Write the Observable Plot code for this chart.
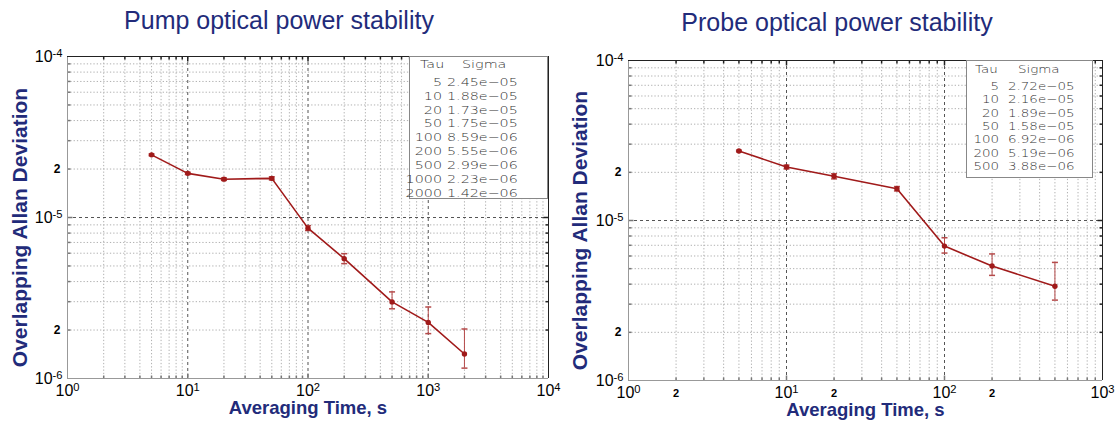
<!DOCTYPE html>
<html><head><meta charset="utf-8">
<script src="https://cdn.jsdelivr.net/npm/d3@7"></script>
<script src="https://cdn.jsdelivr.net/npm/@observablehq/plot@0.6"></script>
<style>
html,body{margin:0;padding:0;background:#fff;}
#root{position:relative;width:1116px;height:422px;overflow:hidden;}
.panel{position:absolute;top:0;width:558px;height:422px;}
.title{position:absolute;left:0;width:558px;text-align:center;font-family:"Liberation Sans",Arial,sans-serif;font-size:25px;line-height:30px;color:#222b7a;}
.panel svg{position:absolute;left:0;top:40px;overflow:visible;}
.lg{position:absolute;background:#fff;border:1px solid #888;box-sizing:border-box;}
.lt{position:absolute;font-family:"DejaVu Sans ExtraLight","DejaVu Sans",sans-serif;font-weight:200;font-size:11px;line-height:14px;color:#333;white-space:nowrap;}
</style></head><body><div id="root"></div>
<script>
// ---- data ----
const pumpTau   = [5, 10, 20, 50, 100, 200, 500, 1000, 2000];
const pumpSigma = [2.45e-5, 1.88e-5, 1.73e-5, 1.75e-5, 8.59e-6, 5.55e-6, 2.99e-6, 2.23e-6, 1.42e-6];
const pumpLo    = [2.42e-5, 1.85e-5, 1.70e-5, 1.71e-5, 8.30e-6, 5.17e-6, 2.71e-6, 1.90e-6, 1.16e-6];
const pumpHi    = [2.48e-5, 1.91e-5, 1.76e-5, 1.79e-5, 8.90e-6, 5.96e-6, 3.45e-6, 2.78e-6, 2.03e-6];

const probeTau   = [5, 10, 20, 50, 100, 200, 500];
const probeSigma = [2.72e-5, 2.16e-5, 1.89e-5, 1.58e-5, 6.92e-6, 5.19e-6, 3.88e-6];
const probeLo    = [2.69e-5, 2.10e-5, 1.82e-5, 1.53e-5, 6.26e-6, 4.54e-6, 3.18e-6];
const probeHi    = [2.75e-5, 2.22e-5, 1.96e-5, 1.63e-5, 7.80e-6, 6.18e-6, 5.47e-6];

const pumpXTicks  = [1, 10, 100, 1000, 10000];
const probeXTicks = [1, 10, 100, 1000];
const probeX2Ticks = [2, 20, 200];
const yTicks  = [1e-6, 1e-5, 1e-4];
const y2Ticks = [2e-6, 2e-5];
const minorMult = [2, 3, 4, 5, 6, 7, 8, 9];

const titles = ["Pump optical power stability", "Probe optical power stability"];
const xLabel = "Averaging Time, s";
const yLabel = "Overlapping Allan Deviation";

// ---- styles ----
const navy = "#222b7a", red = "#a01a1a", errRed = "#b54a4a";

const sym = (f) => ({draw(c){ f(c); }});
const capSym = sym(c => { c.moveTo(-3, 0); c.lineTo(3, 0); });
const tUp = (l) => sym(c => { c.moveTo(0, 0); c.lineTo(0, -l); });
const tDown = (l) => sym(c => { c.moveTo(0, 0); c.lineTo(0, l); });
const tRight = (l) => sym(c => { c.moveTo(0, 0); c.lineTo(l, 0); });
const tLeft = (l) => sym(c => { c.moveTo(0, 0); c.lineTo(-l, 0); });

const e10 = d => "10^" + Math.round(Math.log10(d));
function fmtSigma(v) {
  const [m, e] = v.toExponential(2).split("e");
  const n = +e;
  return m + "e" + (n < 0 ? "\u2212" : "+") + String(Math.abs(n)).padStart(2, "0");
}
const minors = (majors) => majors.slice(0, -1).flatMap(m => minorMult.map(k => k * m));

function makePanel(cfg) {
  const el = document.createElement("div");
  el.className = "panel";
  el.style.left = cfg.left + "px";
  document.getElementById("root").appendChild(el);
  const t = document.createElement("div");
  t.className = "title"; t.textContent = cfg.title; t.style.top = (cfg.titleY - 15) + "px";
  el.appendChild(t);

  const rows = cfg.tau.map((tau, i) => ({tau, sigma: cfg.sigma[i], lo: cfg.lo[i], hi: cfg.hi[i]}));
  const xMaj = cfg.xTicks, xMin = minors(xMaj);
  const yMaj = yTicks, yMin = minors(yMaj);
  const xD = [xMaj[0], xMaj[xMaj.length - 1]], yD = [yMaj[0], yMaj[yMaj.length - 1]];
  const xInner = xMaj.slice(1, -1), yInner = yMaj.slice(1, -1);
  const tickCol = "#777";

  const marks = [
    Plot.ruleX(xMin, {stroke: "#b0b0b0", strokeDasharray: "1.3,2"}),
    Plot.ruleY(yMin, {stroke: "#b0b0b0", strokeDasharray: "1.3,2"}),
    Plot.ruleX(xInner, {stroke: "#555", strokeDasharray: "3,3"}),
    Plot.ruleY(yInner, {stroke: "#555", strokeDasharray: "3,3"}),
    // inner edge ticks
    Plot.dot(xMin, {x: d => d, frameAnchor: "bottom", symbol: tUp(3), stroke: tickCol, fill: "none"}),
    Plot.dot(xInner, {x: d => d, frameAnchor: "bottom", symbol: tUp(5), stroke: tickCol, fill: "none"}),
    Plot.dot(xMin, {x: d => d, frameAnchor: "top", symbol: tDown(3), stroke: "#222", fill: "none"}),
    Plot.dot(xInner, {x: d => d, frameAnchor: "top", symbol: tDown(5), stroke: "#222", fill: "none"}),
    Plot.dot(yMin, {y: d => d, frameAnchor: "left", symbol: tRight(3), stroke: tickCol, fill: "none"}),
    Plot.dot(yInner, {y: d => d, frameAnchor: "left", symbol: tRight(5), stroke: tickCol, fill: "none"}),
    Plot.dot(yMin, {y: d => d, frameAnchor: "right", symbol: tLeft(3), stroke: "#222", fill: "none"}),
    Plot.dot(yInner, {y: d => d, frameAnchor: "right", symbol: tLeft(5), stroke: "#222", fill: "none"}),
    // frame edges
    Plot.ruleY([yD[0]], {stroke: "#999"}),
    Plot.ruleX([xD[0]], {stroke: "#999"}),
    Plot.ruleY([yD[1]], {stroke: "#222"}),
    Plot.ruleX([xD[1]], {stroke: "#222"}),
    // error bars
    Plot.ruleX(rows, {x: "tau", y1: "lo", y2: "hi", stroke: errRed, strokeWidth: 1}),
    Plot.dot(rows, {x: "tau", y: "lo", symbol: capSym, stroke: errRed, fill: "none"}),
    Plot.dot(rows, {x: "tau", y: "hi", symbol: capSym, stroke: errRed, fill: "none"}),
    // data
    Plot.line(rows, {x: "tau", y: "sigma", stroke: red, strokeWidth: 1.6}),
    Plot.dot(rows, {x: "tau", y: "sigma", r: 2.7, fill: red, stroke: "none"}),
    // axes
    Plot.axisX(xMaj, {anchor: "bottom", tickSize: 0, tickPadding: 6, tickFormat: e10, fontSize: 16, fill: "#000", label: null}),
    Plot.axisY(yMaj, {anchor: "left", tickSize: 0, tickPadding: 5, tickFormat: e10, fontSize: 16, fill: "#000", label: null}),
    Plot.axisY(y2Ticks, {anchor: "left", tickSize: 0, tickPadding: 7, tickFormat: () => "2", fontSize: 12, fontWeight: "bold", fill: "#000", label: null}),
    Plot.text([xLabel], {text: d => d, frameAnchor: "bottom", dy: 30, lineAnchor: "middle", textAnchor: "middle", fontSize: 18.5, fontWeight: "bold", fill: navy}),
    Plot.text([yLabel], {text: d => d, frameAnchor: "left", dx: cfg.yLabelDx, dy: 10, rotate: -90, lineAnchor: "middle", textAnchor: "middle", fontSize: 21, fontWeight: "bold", fill: navy})
  ];
  if (cfg.x2Ticks) marks.push(Plot.axisX(cfg.x2Ticks, {anchor: "bottom", tickSize: 0, tickPadding: 9, tickFormat: () => "2", fontSize: 11, fontWeight: "bold", fill: "#000", label: null}));

  const svg = Plot.plot({
    width: 558, height: 382,
    marginLeft: cfg.ml, marginRight: cfg.mr, marginTop: cfg.mt, marginBottom: cfg.mb,
    x: {type: "log", domain: xD, axis: null},
    y: {type: "log", domain: yD, axis: null},
    style: {fontFamily: "Liberation Sans, Arial, sans-serif", background: "transparent", overflow: "visible"},
    marks
  });
  el.appendChild(svg);
  // superscripts
  d3.select(svg).selectAll("text").each(function () {
    const s = this.textContent;
    if (s.includes("^")) {
      const [b, e] = s.split("^");
      const sel = d3.select(this);
      sel.text(null);
      sel.append("tspan").text(b);
      sel.append("tspan").attr("dy", "-0.45em").attr("font-size", "0.7em").text(e);
    }
  });

  // legend table
  const L = cfg.legend;
  const box = document.createElement("div");
  box.className = "lg";
  Object.assign(box.style, {left: L.x + "px", top: L.y + "px", width: L.w + "px", height: L.h + "px"});
  el.appendChild(box);
  function txt(s, x, yc, align) {
    const e = document.createElement("div");
    e.className = "lt"; e.textContent = s;
    e.style.top = (yc - 7) + "px";
    e.style.transform = `scaleX(${L.sx})`;
    if (align === "right") { e.style.right = (558 - x) + "px"; e.style.transformOrigin = "right center"; }
    else { e.style.left = x + "px"; e.style.transformOrigin = "left center"; }
    el.appendChild(e);
  }
  txt("Tau", L.tauHead, L.headY, "left");
  txt("Sigma", L.sigHead, L.headY, "left");
  cfg.tau.forEach((tv, i) => {
    txt(String(tv), L.tauRight, L.row0 + i * L.rowH, "right");
    txt(fmtSigma(cfg.sigma[i]), L.sigLeft, L.row0 + i * L.rowH, "left");
  });
}

makePanel({
  left: 0, title: titles[0], titleY: 20,
  tau: pumpTau, sigma: pumpSigma, lo: pumpLo, hi: pumpHi,
  xTicks: pumpXTicks, x2Ticks: null,
  ml: 67, mr: 10, mt: 16, mb: 44, yLabelDx: -47,
  legend: {x: 409, y: 56, w: 139, h: 143, headY: 65, row0: 82.7, rowH: 13.9, tauHead: 420, sigHead: 462, tauRight: 442, sigLeft: 447, sx: 1.3}
});
makePanel({
  left: 558, title: titles[1], titleY: 22,
  tau: probeTau, sigma: probeSigma, lo: probeLo, hi: probeHi,
  xTicks: probeXTicks, x2Ticks: probeX2Ticks,
  ml: 70, mr: 14, mt: 20, mb: 42, yLabelDx: -48,
  legend: {x: 408, y: 60, w: 127, h: 118, headY: 70, row0: 86.7, rowH: 13.4, tauHead: 417, sigHead: 460, tauRight: 441, sigLeft: 450, sx: 1.22}
});
</script>
</body></html>
